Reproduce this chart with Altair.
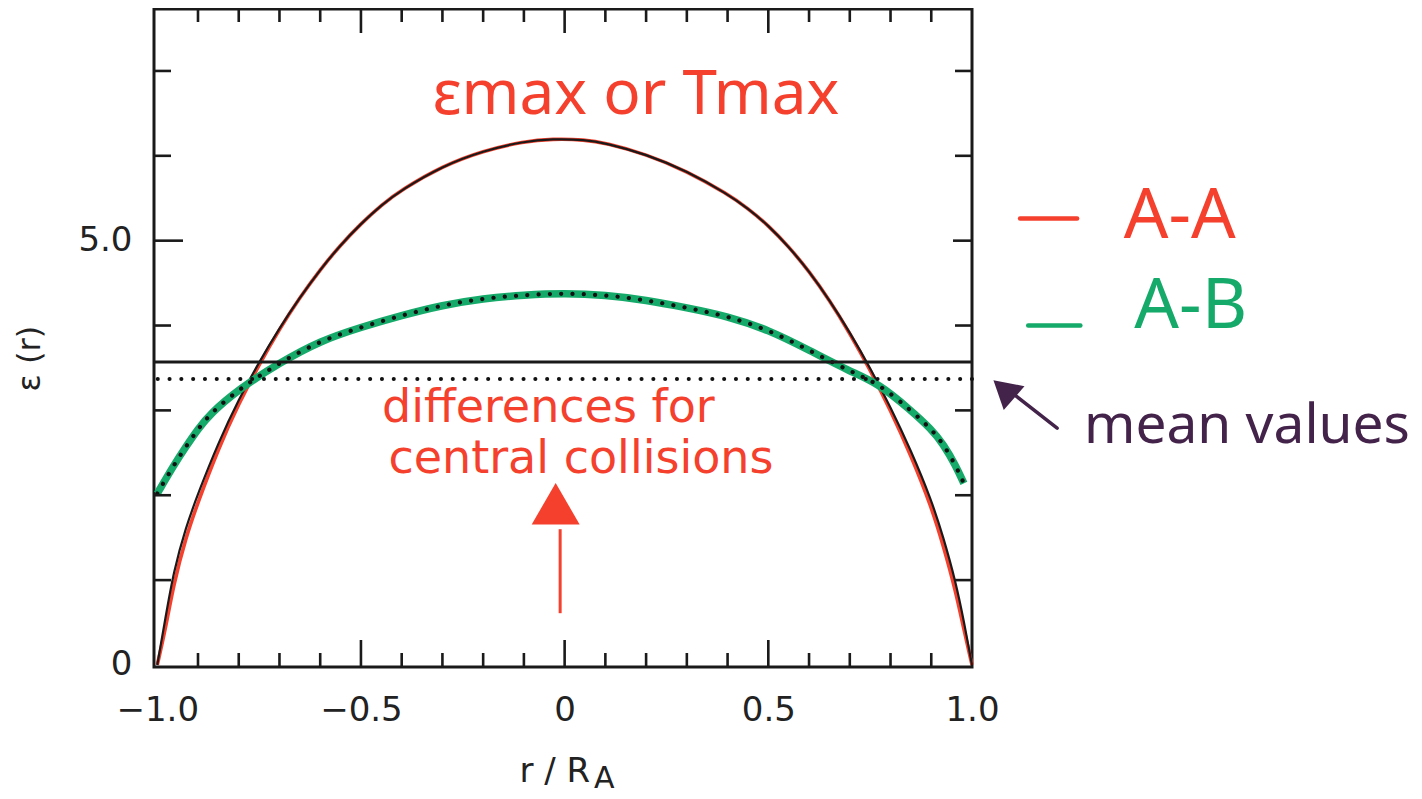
import altair as alt
import pandas as pd

# ---- data ----
r_aa = [-1.0, -0.98, -0.96, -0.93, -0.90, -0.85, -0.80, -0.75, -0.70, -0.65,
        -0.60, -0.55, -0.50, -0.45, -0.40, -0.30, -0.20, -0.10, -0.03, 0.05,
        0.10, 0.20, 0.30, 0.40, 0.45, 0.50, 0.55, 0.60, 0.65, 0.70,
        0.75, 0.80, 0.85, 0.90, 0.93, 0.96, 0.98, 1.0]
eps_aa_calc = [0.0, 0.55, 1.1, 1.62, 2.02, 2.62, 3.13, 3.57, 3.97, 4.33,
               4.66, 4.95, 5.2, 5.42, 5.6, 5.88, 6.06, 6.17, 6.2, 6.19,
               6.15, 6.02, 5.82, 5.55, 5.38, 5.18, 4.93, 4.64, 4.3, 3.92,
               3.5, 3.04, 2.53, 1.95, 1.5, 0.98, 0.52, 0.0]
eps_aa = [0.0, 0.42, 0.95, 1.5, 1.92, 2.55, 3.08, 3.54, 3.96, 4.33,
          4.66, 4.95, 5.2, 5.42, 5.6, 5.88, 6.06, 6.17, 6.2, 6.19,
          6.15, 6.02, 5.82, 5.55, 5.38, 5.18, 4.93, 4.64, 4.3, 3.91,
          3.48, 3.0, 2.47, 1.87, 1.4, 0.87, 0.42, 0.0]
r_ab = [-1.0, -0.96, -0.93, -0.90, -0.87, -0.80, -0.70, -0.60, -0.50, -0.40,
        -0.30, -0.20, -0.10, 0.0, 0.10, 0.20, 0.30, 0.40, 0.50, 0.60,
        0.70, 0.77, 0.85, 0.90, 0.93, 0.96, 0.98]
eps_ab = [2.02, 2.35, 2.57, 2.78, 2.96, 3.25, 3.56, 3.82, 3.98, 4.12,
          4.24, 4.32, 4.36, 4.38, 4.36, 4.3, 4.21, 4.11, 3.95, 3.71,
          3.46, 3.32, 3.0, 2.78, 2.6, 2.35, 2.14]
mean_aa = 3.57
mean_ab = 3.37

x_tick_vals = [-0.9, -0.8, -0.7, -0.6, -0.5, -0.4, -0.3, -0.2, -0.1, 0.0,
               0.1, 0.2, 0.3, 0.4, 0.5, 0.6, 0.7, 0.8, 0.9]
x_major = [-0.5, 0.0, 0.5]
y_tick_vals = [1, 2, 3, 4, 5, 6, 7]
y_major = [5]
x_label_vals = [-1.0, -0.5, 0.0, 0.5, 1.0]
y_label_vals = [0, 5]

# ---- geometry / style ----
XMIN, XMAX = -1.008, 1.0
YMIN, YMAX = -0.024, 7.73
W, H = 818, 658
PX = (XMAX - XMIN) / W
PY = (YMAX - YMIN) / H
RED = "#f4402c"
GREEN = "#16aa6a"
PURPLE = "#44234a"
FONT = "DejaVu Sans"

xs = alt.Scale(domain=[XMIN, XMAX], nice=False, zero=False)
ys = alt.Scale(domain=[YMIN, YMAX], nice=False, zero=False)

xaxis = alt.Axis(values=x_label_vals, ticks=False, domain=False, grid=False,
                 labelExpr="datum.value == 0 ? '0' : (datum.value < 0 ? '\u2212' : '') + format(abs(datum.value), '.1f')",
                 labelFont=FONT, labelFontSize=34, labelColor="#222", labelPadding=26,
                 labelFlush=False, labelOverlap=False, title=None)
yaxis = alt.Axis(values=y_label_vals, ticks=False, domain=False, grid=False,
                 labelExpr="datum.value == 0 ? '0' : format(datum.value, '.1f')",
                 labelFont=FONT, labelFontSize=34, labelColor="#222", labelPadding=22,
                 labelOverlap=False, title=None)


def X(field):
    return alt.X(field, scale=xs, axis=xaxis)


def Y(field):
    return alt.Y(field, scale=ys, axis=yaxis)


df_calc = pd.DataFrame({"r": r_aa, "eps": eps_aa_calc})
df_aa = pd.DataFrame({"r": r_aa, "eps": eps_aa})
df_ab = pd.DataFrame({"r": r_ab, "eps": eps_ab})

red_line = alt.Chart(df_aa).mark_line(color=RED, strokeWidth=3.6, interpolate="basis").encode(
    x=X("r:Q"), y=Y("eps:Q"))
black_line = alt.Chart(df_calc).mark_line(color="#1a1a1a", strokeWidth=2.2, interpolate="basis").encode(
    x=X("r:Q"), y=Y("eps:Q"))
green_line = alt.Chart(df_ab).mark_line(color=GREEN, strokeWidth=7.5, interpolate="basis").encode(
    x=X("r:Q"), y=Y("eps:Q"))
dots_line = alt.Chart(df_ab).mark_line(color="#111", strokeWidth=4.2, strokeDash=[0.1, 11.2],
                                       strokeCap="round", interpolate="basis").encode(
    x=X("r:Q"), y=Y("eps:Q"))

mean_solid = alt.Chart(pd.DataFrame({"m": [mean_aa]})).mark_rule(color="#1a1a1a", strokeWidth=2.8).encode(
    y=Y("m:Q"))
mean_dot = alt.Chart(pd.DataFrame({"m": [mean_ab]})).mark_rule(
    color="#111", strokeWidth=4, strokeDash=[0.1, 11.7], strokeCap="round").encode(
    y=Y("m:Q"))

# tick marks (inward, on all four sides)
rows_v = []
for v in x_tick_vals:
    lb = (27 if v in x_major else 14) * PY
    lt = (24 if v in x_major else 13) * PY
    rows_v.append({"x": v, "y0": YMIN, "y1": YMIN + lb})
    rows_v.append({"x": v, "y0": YMAX - lt, "y1": YMAX})
rows_h = []
for v in y_tick_vals:
    ll = (29 if v in y_major else 17) * PX
    lr = (19 if v in y_major else 17) * PX
    rows_h.append({"y": v, "x0": XMIN, "x1": XMIN + ll})
    rows_h.append({"y": v, "x0": XMAX - lr, "x1": XMAX})
ticks_v = alt.Chart(pd.DataFrame(rows_v)).mark_rule(color="#1a1a1a", strokeWidth=2.6).encode(
    x=X("x:Q"), y=Y("y0:Q"), y2="y1:Q")
ticks_h = alt.Chart(pd.DataFrame(rows_h)).mark_rule(color="#1a1a1a", strokeWidth=2.6).encode(
    y=Y("y:Q"), x=X("x0:Q"), x2="x1:Q")


def label(text, x, y, size, color, align="center", baseline="middle", angle=0, font=FONT):
    kw = dict(text=text, fontSize=size, color=color, align=align, baseline=baseline, font=font)
    if angle:
        kw["angle"] = angle
    return alt.Chart(pd.DataFrame({"x": [x], "y": [y]})).mark_text(**kw).encode(
        x=X("x:Q"), y=Y("y:Q"))


texts = [
    label("\u03b5 (r)", -1.312, 3.61, 32, "#222", angle=270),
    label("r / R", 0.0626, -1.379, 34, "#222", align="right", baseline="alphabetic"),
    label("A", 0.072, -1.45, 30, "#222", align="left", baseline="alphabetic"),
    label("\u03b5max or Tmax", 0.175, 6.72, 62, RED, font="Noto Sans"),
    label("differences for", -0.04, 3.03, 46, RED),
    label("central collisions", 0.04, 2.43, 46, RED),
    label("A-A", 1.51, 5.28, 70, RED, font="Noto Sans"),
    label("A-B", 1.537, 4.22, 70, GREEN, font="Noto Sans"),
    label("mean values", 1.675, 2.61, 55, PURPLE, baseline="alphabetic", font="Noto Sans"),
]

# legend dashes
dash_df = pd.DataFrame({"x0": [1.118, 1.138], "x1": [1.258, 1.266], "y": [5.26, 4.0], "c": ["a", "b"]})
dashes = alt.Chart(dash_df).mark_rule(strokeWidth=4.5, strokeCap="round").encode(
    x=X("x0:Q"), x2="x1:Q", y=Y("y:Q"),
    color=alt.Color("c:N", scale=alt.Scale(domain=["a", "b"], range=[RED, GREEN]), legend=None))

# red arrow
red_shaft = alt.Chart(pd.DataFrame({"x": [-0.011], "y0": [0.61], "y1": [1.6]})).mark_rule(
    color=RED, strokeWidth=3).encode(x=X("x:Q"), y=Y("y0:Q"), y2="y1:Q")
red_head = alt.Chart(pd.DataFrame({"x": [-0.022], "y": [1.9]})).mark_point(
    shape="triangle-up", filled=True, size=2300, color=RED, opacity=1).encode(
    x=X("x:Q"), y=Y("y:Q"))

# purple arrow
p_shaft = alt.Chart(pd.DataFrame({"x0": [1.209], "y0": [2.79], "x1": [1.10], "y1": [3.2]})).mark_rule(
    color=PURPLE, strokeWidth=3.5, strokeCap="round").encode(
    x=X("x0:Q"), y=Y("y0:Q"), x2="x1:Q", y2="y1:Q")
p_head = alt.Chart(pd.DataFrame({"x": [1.078], "y": [3.25]})).mark_point(
    shape="triangle-up", filled=True, size=1000, color=PURPLE, opacity=1, angle=311).encode(
    x=X("x:Q"), y=Y("y:Q"))

chart = alt.layer(
    red_line, black_line, green_line, dots_line, mean_solid, mean_dot,
    ticks_v, ticks_h, dashes, red_shaft, red_head, p_shaft, p_head, *texts
).properties(
    width=W, height=H,
    padding={"left": 146, "top": 1, "right": 442, "bottom": 128},
    autosize=alt.AutoSizeParams(type="none"),
    background="white",
).configure_view(stroke="#1a1a1a", strokeWidth=3)

chart.save("out.html", embed_options={"renderer": "svg", "actions": False})
